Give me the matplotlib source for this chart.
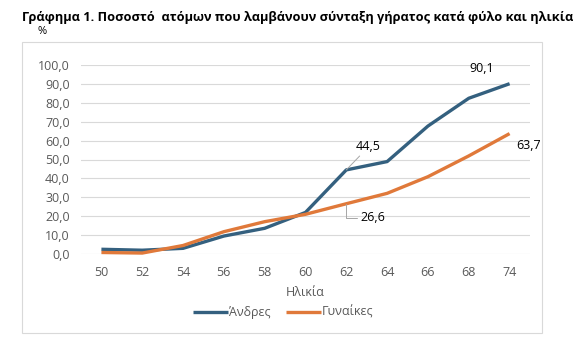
import matplotlib.pyplot as plt
from matplotlib.patches import Rectangle

ages = ["50", "52", "54", "56", "58", "60", "62", "64", "66", "68", "74"]
men = [2.5, 2.0, 3.0, 9.5, 13.6, 22.0, 44.5, 48.9, 67.7, 82.4, 90.1]
women = [0.8, 0.5, 4.5, 11.8, 17.1, 21.0, 26.6, 32.1, 40.9, 51.9, 63.7]
yticks = [0, 10, 20, 30, 40, 50, 60, 70, 80, 90, 100]

plt.rcParams['font.family'] = ['Open Sans', 'DejaVu Sans']

fig = plt.figure(figsize=(5.75, 3.5), dpi=100)
# chart frame
fig.patches.append(Rectangle((22 / 575, 1 - 333 / 350), 520 / 575, 291 / 350,
                             transform=fig.transFigure, fill=False, edgecolor="#d9d9d9", lw=0.8))
ax = fig.add_axes([81 / 575, 1 - 254 / 350, 449 / 575, 189 / 350])

x = range(len(ages))
ax.plot(x, men, color="#34607f", lw=2.4, label="Άνδρες", clip_on=False, solid_capstyle="butt")
ax.plot(x, women, color="#e0793a", lw=2.4, label="Γυναίκες", clip_on=False, solid_capstyle="butt")

ax.set_xlim(-0.5, len(ages) - 0.5)
ax.set_ylim(0, 100)
ax.set_xticks(list(x))
ax.set_xticklabels(ages)
ax.set_yticks(yticks)
ax.set_yticklabels([f"{v:.1f}".replace(".", ",") for v in yticks])
ax.grid(axis="y", color="#d9d9d9", lw=0.8)
ax.set_axisbelow(True)
for s in ax.spines.values():
    s.set_visible(False)
ax.tick_params(length=0, labelsize=9, colors="#595959", pad=8)
ax.tick_params(axis="x", pad=9)

# data labels
ax.annotate("90,1", (10, men[10]), xytext=(-20, 6), textcoords="offset points",
            ha="center", va="bottom", fontsize=9)
ax.annotate("63,7", (10, women[10]), xytext=(5, -4), textcoords="offset points",
            ha="left", va="top", fontsize=9)
ax.annotate("44,5", (6, men[6]), xytext=(16, 12), textcoords="offset points",
            ha="center", va="bottom", fontsize=9,
            arrowprops=dict(arrowstyle="-", color="#a6a6a6", lw=0.7, shrinkA=0, shrinkB=0))
ax.annotate("26,6", (6, women[6]), xytext=(19, -10), textcoords="offset points",
            ha="center", va="center", fontsize=9,
            arrowprops=dict(arrowstyle="-", color="#a6a6a6", lw=0.7, shrinkA=0, shrinkB=0,
                            connectionstyle="angle,angleA=0,angleB=90"))

ax.set_xlabel("Ηλικία", fontsize=9, color="#595959", labelpad=5)
ax.legend(loc="upper center", bbox_to_anchor=(0.45, -0.215), ncol=2, frameon=False,
          fontsize=9, labelcolor="#595959", handlelength=2.8, handletextpad=0.1,
          columnspacing=1.2)

fig.text(22 / 575, 1 - 17 / 350, "Γράφημα 1. Ποσοστό  ατόμων που λαμβάνουν σύνταξη γήρατος κατά φύλο και ηλικία",
         fontsize=9.2, fontweight="bold", va="center", ha="left")
fig.text(38 / 575, 1 - 32 / 350, "%", fontsize=8, va="center", ha="left")

fig.savefig("out.png", dpi=100)
